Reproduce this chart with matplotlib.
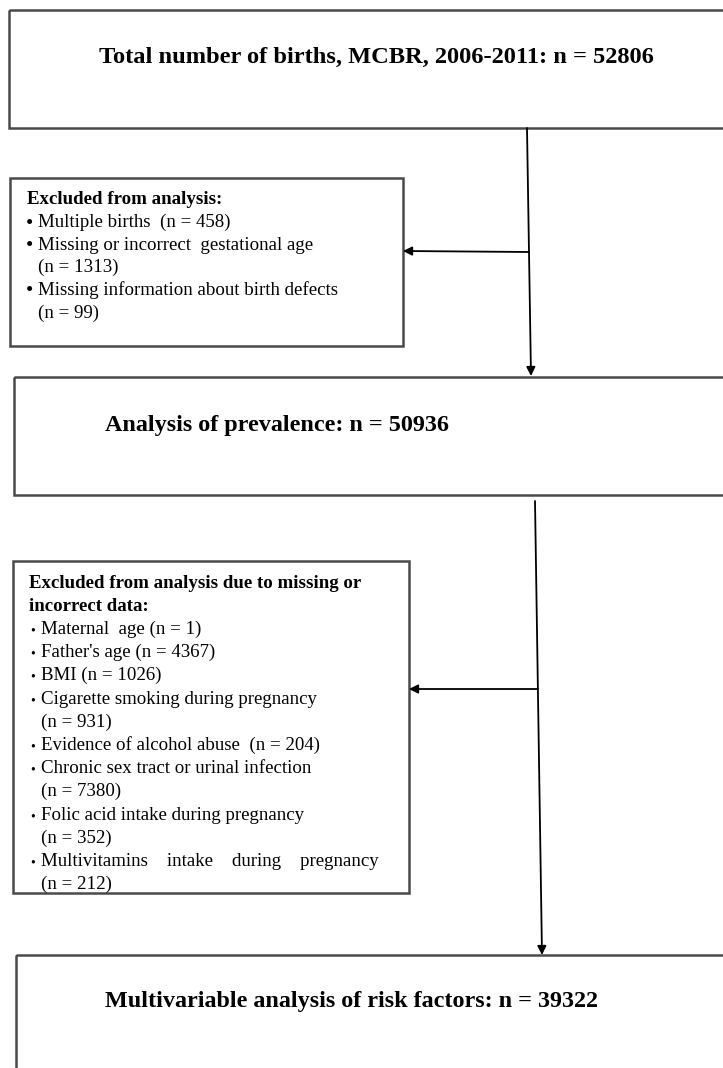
import matplotlib
matplotlib.use("Agg")
import matplotlib.pyplot as plt
from matplotlib.patches import Rectangle

W, H = 723, 1068

# counts shown in the flowchart
n_total = 52806
n_prevalence = 50936
n_multivariable = 39322

main_titles = [
    f"Total number of births, MCBR, 2006-2011: n = {n_total}",
    f"Analysis of prevalence: n = {n_prevalence}",
    f"Multivariable analysis of risk factors: n = {n_multivariable}",
]

excl1_head = ["Excluded from analysis:"]
excl1_items = [
    ["Multiple births  (n = 458)"],
    ["Missing or incorrect  gestational age", "(n = 1313)"],
    ["Missing information about birth defects", "(n = 99)"],
]

excl2_head = ["Excluded from analysis due to missing or", "incorrect data:"]
excl2_items = [
    ["Maternal  age (n = 1)"],
    ["Father's age (n = 4367)"],
    ["BMI (n = 1026)"],
    ["Cigarette smoking during pregnancy", "(n = 931)"],
    ["Evidence of alcohol abuse  (n = 204)"],
    ["Chronic sex tract or urinal infection", "(n = 7380)"],
    ["Folic acid intake during pregnancy", "(n = 352)"],
    # justified line in the original
    ["Multivitamins    intake    during    pregnancy", "(n = 212)"],
]

SERIF = "Liberation Serif"
BORDER = "#4a4a4a"

fig = plt.figure(figsize=(W / 100, H / 100), dpi=100)
ax = fig.add_axes([0, 0, 1, 1])
ax.set_xlim(0, W)
ax.set_ylim(H, 0)
ax.axis("off")


def box(x0, y0, x1, y1):
    ax.add_patch(Rectangle((x0, y0), x1 - x0, y1 - y0, fill=False,
                           edgecolor=BORDER, lw=1.8, clip_on=True))


def arrow(x0, y0, x1, y1):
    ax.annotate("", xy=(x1, y1), xytext=(x0, y0),
                arrowprops=dict(arrowstyle="-|>", color="black", lw=1.3,
                                mutation_scale=13, shrinkA=0, shrinkB=0))


# main boxes (right / bottom edges run off the picture)
box(9, 10, 740, 128)
box(14, 377, 740, 495)
box(16, 955, 740, 1090)

ax.text(376, 57, main_titles[0], family=SERIF, weight="bold", fontsize=17.6,
        ha="center", va="center")
ax.text(105, 425, main_titles[1], family=SERIF, weight="bold", fontsize=17.4,
        ha="left", va="center")
ax.text(105, 1001, main_titles[2], family=SERIF, weight="bold", fontsize=17.4,
        ha="left", va="center")


def excl_box(x0, y0, x1, y1, head, items, y_first, step, hx, bx, tx, bsize):
    box(x0, y0, x1, y1)
    y = y_first
    for line in head:
        ax.text(hx, y, line, family=SERIF, weight="bold", fontsize=13.6,
                ha="left", va="center")
        y += step
    for item in items:
        ax.text(bx, y + 1.5, "\u2022", family=SERIF, fontsize=bsize,
                ha="left", va="center")
        for line in item:
            ax.text(tx, y, line, family=SERIF, fontsize=13.6,
                    ha="left", va="center")
            y += step


excl_box(10, 178, 403, 346, excl1_head, excl1_items,
         200, 22.6, 27, 26, 38, 15)
excl_box(13, 561, 409, 893, excl2_head, excl2_items,
         583, 23.2, 29, 30, 41, 10)


def x_on(xa, ya, xb, yb, y):
    return xa + (xb - xa) * (y - ya) / (yb - ya)


# connectors: straight trunk with a side branch to each exclusion box
arrow(527, 128, 531, 376)
arrow(x_on(527, 128, 531, 376, 252), 252, 403, 251)

arrow(535, 501, 542, 955)
arrow(x_on(535, 501, 542, 955, 689), 689, 409, 689)

fig.savefig("out.png", dpi=100)
